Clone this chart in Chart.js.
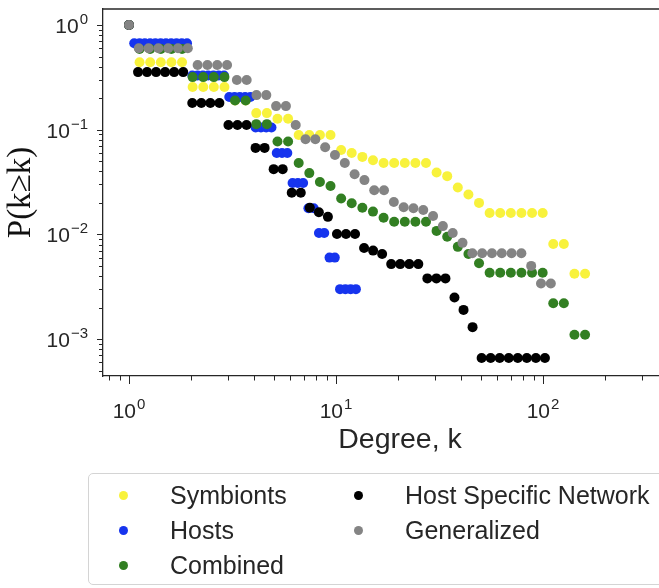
<!DOCTYPE html>
<html><head><meta charset="utf-8">
<script src="https://cdn.jsdelivr.net/npm/chart.js@4.4.0/dist/chart.umd.min.js"></script>
<style>
html,body{margin:0;padding:0;background:#fff;overflow:hidden;width:659px;height:588px}
#wrap{position:relative;width:659px;height:588px;overflow:hidden}
canvas{position:absolute;left:0;top:0}
#legend{position:absolute;left:88px;top:473px;width:624px;height:112px;border:1px solid #d4d4d4;border-radius:5px;font-family:"Liberation Sans",Arial,sans-serif;font-size:25px;color:#262626;box-sizing:border-box}
.item{position:absolute;white-space:nowrap;line-height:26px;height:26px}
.dot{position:absolute;width:9px;height:9px;border-radius:50%}
</style></head>
<body><div id="wrap"><canvas id="c" width="720" height="588"></canvas><div id="legend"></div></div>
<script>
// ---- data ----
const seriesLabels = ["Symbionts", "Hosts", "Combined", "Host Specific Network", "Generalized"];

const symbiontsDegree = [1,1.125,1.266,1.425,1.603,1.804,2.030,2.284,2.570,2.892,3.254,3.662,4.120,4.636,5.217,5.870,6.605,7.432,8.363,9.410,10.59,11.91,13.41,15.09,16.98,19.10,21.50,24.19,27.22,30.62,34.46,38.77,43.63,49.09,55.24,62.15,69.93,78.69,88.54,99.63,112.1,126.1,141.9,159.7];
const symbiontsP = [1,0.44,0.44,0.44,0.44,0.44,0.256,0.256,0.256,0.256,0.19,0.19,0.144,0.144,0.127,0.127,0.089,0.089,0.089,0.089,0.064,0.060,0.055,0.051,0.048,0.048,0.048,0.048,0.048,0.039,0.036,0.028,0.024,0.020,0.016,0.016,0.016,0.016,0.016,0.016,0.0081,0.0081,0.0042,0.0042];

const hostsDegree = [1,1.060,1.125,1.192,1.265,1.341,1.422,1.508,1.599,1.696,1.799,1.907,2.023,2.145,2.275,2.412,2.558,2.713,2.877,3.051,3.235,3.431,3.638,3.858,4.091,4.339,4.601,4.879,5.174,5.487,5.819,6.170,6.543,6.939,7.358,7.803,8.275,8.775,9.306,9.868,10.46,11.10,11.77,12.48];
const hostsP = [1,0.67,0.67,0.67,0.67,0.67,0.67,0.67,0.67,0.67,0.67,0.67,0.33,0.33,0.33,0.33,0.33,0.33,0.33,0.205,0.205,0.205,0.205,0.205,0.105,0.105,0.105,0.105,0.06,0.06,0.06,0.031,0.031,0.031,0.0178,0.0178,0.0103,0.0103,0.006,0.006,0.003,0.003,0.003,0.003];

const combinedDegree = [1,1.125,1.266,1.425,1.603,1.804,2.030,2.284,2.570,2.892,3.254,3.662,4.120,4.636,5.217,5.870,6.605,7.432,8.363,9.410,10.59,11.91,13.41,15.09,16.98,19.10,21.50,24.19,27.22,30.62,34.46,38.77,43.63,49.09,55.24,62.15,69.93,78.69,88.54,99.63,112.1,126.1,141.9,159.7];
const combinedP = [1,0.59,0.59,0.59,0.59,0.59,0.318,0.318,0.318,0.318,0.19,0.19,0.113,0.113,0.077,0.077,0.048,0.0385,0.0316,0.029,0.022,0.0198,0.018,0.0165,0.0144,0.0132,0.0132,0.0132,0.0132,0.0108,0.0095,0.0076,0.0065,0.0053,0.0043,0.0043,0.0043,0.0043,0.0043,0.0043,0.0022,0.0022,0.0011,0.0011];

const hostSpecificDegree = [1,1.106,1.223,1.352,1.495,1.653,1.828,2.022,2.236,2.472,2.734,3.023,3.343,3.697,4.088,4.520,4.999,5.527,6.112,6.759,7.474,8.265,9.139,10.11,11.18,12.36,13.67,15.11,16.71,18.48,20.43,22.60,24.99,27.63,30.56,33.79,37.36,41.32,45.69,50.52,55.87,61.78,68.32,75.55,83.54,92.38,102.2];
const hostSpecificP = [1,0.355,0.355,0.355,0.355,0.355,0.355,0.18,0.18,0.18,0.18,0.111,0.111,0.111,0.067,0.067,0.042,0.042,0.025,0.025,0.018,0.0163,0.0147,0.0101,0.0101,0.0101,0.0074,0.0070,0.0065,0.0052,0.0052,0.0052,0.0052,0.0038,0.0038,0.0038,0.0025,0.0019,0.0013,0.00066,0.00066,0.00066,0.00066,0.00066,0.00066,0.00066,0.00066];

const generalizedDegree = [1,1.115,1.244,1.387,1.547,1.725,1.924,2.146,2.393,2.669,2.977,3.320,3.703,4.130,4.606,5.137,5.729,6.390,7.127,7.948,8.865,9.887,11.03,12.30,13.72,15.30,17.06,19.03,21.23,23.67,26.40,29.45,32.84,36.63,40.85,45.56,50.82,56.68,63.21,70.50,78.63,87.70,97.81,109.1];
const generalizedP = [1,0.60,0.60,0.60,0.60,0.60,0.60,0.415,0.415,0.415,0.415,0.298,0.298,0.214,0.214,0.168,0.168,0.111,0.081,0.081,0.068,0.0574,0.048,0.0376,0.033,0.0264,0.0264,0.0204,0.0182,0.0178,0.0171,0.015,0.012,0.0103,0.0083,0.0066,0.0066,0.0066,0.0066,0.0066,0.0066,0.005,0.0034,0.0034];

const xTickValues = [1, 10, 100];
const xTickExponents = ["0", "1", "2"];
const xMinorTicks = [0.8,0.9,2,3,4,5,6,7,8,9,20,30,40,50,60,70,80,90,200,300,400,500];
const yTickValues = [1, 0.1, 0.01, 0.001];
const yTickExponents = ["0", "\u22121", "\u22122", "\u22123"];
const yMinorTicks = [0.9,0.8,0.7,0.6,0.5,0.4,0.3,0.2,0.09,0.08,0.07,0.06,0.05,0.04,0.03,0.02,0.009,0.008,0.007,0.006,0.005,0.004,0.003,0.002,0.0009,0.0008,0.0007,0.0006,0.0005];

// ---- styles ----
const seriesColors = ["#f8f23c", "#1634ee", "#327f22", "#000000", "#848484"];
const seriesOrder = [5, 4, 3, 2, 1];
const axisColor = "#262626";
const textColor = "#262626";

const degrees = [symbiontsDegree, hostsDegree, combinedDegree, hostSpecificDegree, generalizedDegree];
const probs = [symbiontsP, hostsP, combinedP, hostSpecificP, generalizedP];

const datasets = seriesLabels.map((label, i) => ({
  label,
  data: degrees[i].map((k, j) => ({x: k, y: probs[i][j]})),
  backgroundColor: seriesColors[i],
  borderWidth: 0,
  pointRadius: 5,
  pointHoverRadius: 5,
  showLine: false,
  order: seriesOrder[i]
}));

function drawPow(ctx, exp, x, y, align, baseSize, expSize, rise) {
  ctx.font = baseSize + 'px "Liberation Sans", Arial, sans-serif';
  const wb = ctx.measureText('10').width;
  ctx.font = expSize + 'px "Liberation Sans", Arial, sans-serif';
  const we = ctx.measureText(exp).width;
  const total = wb + we + 1;
  const start = align === 'center' ? x - total / 2 : x - total;
  ctx.textAlign = 'left';
  ctx.textBaseline = 'alphabetic';
  ctx.font = baseSize + 'px "Liberation Sans", Arial, sans-serif';
  ctx.fillText('10', start, y);
  ctx.font = expSize + 'px "Liberation Sans", Arial, sans-serif';
  ctx.fillText(exp, start + wb + 1, y - rise);
}

const mplAxes = {
  id: 'mplAxes',
  afterDraw(chart) {
    const {ctx, chartArea: a} = chart;
    const xs = chart.scales.x, ys = chart.scales.y;
    ctx.save();
    ctx.strokeStyle = axisColor;
    ctx.lineWidth = 1.3;
    ctx.beginPath(); ctx.moveTo(a.left, a.top); ctx.lineTo(a.right, a.top); ctx.stroke();
    ctx.lineWidth = 1;
    const seg = (x1, y1, x2, y2) => { ctx.beginPath(); ctx.moveTo(x1, y1); ctx.lineTo(x2, y2); ctx.stroke(); };
    xTickValues.forEach(v => { const p = Math.round(xs.getPixelForValue(v)) + 0.5; seg(p, a.bottom, p, a.bottom + 8); });
    xMinorTicks.forEach(v => { const p = Math.round(xs.getPixelForValue(v)) + 0.5; if (p > a.left && p < a.right) seg(p, a.bottom, p, a.bottom + 4.5); });
    yTickValues.forEach(v => { const p = Math.round(ys.getPixelForValue(v)) + 0.5; seg(a.left - 6, p, a.left, p); });
    yMinorTicks.forEach(v => { const p = Math.round(ys.getPixelForValue(v)) + 0.5; if (p > a.top && p < a.bottom) seg(a.left - 4, p, a.left, p); });
    ctx.fillStyle = textColor;
    xTickValues.forEach((v, i) => drawPow(ctx, xTickExponents[i], xs.getPixelForValue(v), a.bottom + 42, 'center', 21, 15, 9));
    yTickValues.forEach((v, i) => drawPow(ctx, yTickExponents[i], a.left - 15, ys.getPixelForValue(v) + 8, 'right', 21, 15, 9));
    ctx.restore();
  }
};

new Chart(document.getElementById('c'), {
  type: 'scatter',
  data: {datasets},
  plugins: [mplAxes],
  options: {
    responsive: false,
    animation: false,
    devicePixelRatio: 1,
    layout: {padding: {left: 0, right: 23, top: 9, bottom: 118}},
    plugins: {legend: {display: false}, tooltip: {enabled: false}},
    scales: {
      x: {
        type: 'logarithmic', bounds: 'data', min: 0.749, max: 554.6,
        grid: {display: false, drawTicks: false},
        border: {display: true, color: axisColor, width: 1.3},
        ticks: {display: false},
        title: {display: true, text: 'Degree, k', color: textColor,
                font: {family: '"Liberation Sans", Arial, sans-serif', size: 28.5}, padding: {top: 0, bottom: 13}},
        afterFit(s) { s.height = 94; }
      },
      y: {
        type: 'logarithmic', bounds: 'data', min: 0.000444, max: 1.422,
        grid: {display: false, drawTicks: false},
        border: {display: true, color: axisColor, width: 1.3},
        ticks: {display: false},
        title: {display: true, text: 'P(k\u2265k)', color: '#111',
                font: {family: '"Liberation Serif", "Times New Roman", serif', size: 33}, padding: {top: 2, bottom: 0}},
        afterFit(s) { s.width = 103; }
      }
    }
  }
});

// legend (HTML text) built from the same label/colour arrays
const legendPos = [[0, 0], [0, 1], [0, 2], [1, 0], [1, 1]];
const lg = document.getElementById('legend');
seriesLabels.forEach((label, i) => {
  const [col, row] = legendPos[i];
  const cy = 21 + row * 35;
  const dot = document.createElement('div');
  dot.className = 'dot';
  dot.style.background = seriesColors[i];
  dot.style.left = (col === 0 ? 30 : 265) + 'px';
  dot.style.top = (cy - 4.5) + 'px';
  lg.appendChild(dot);
  const t = document.createElement('div');
  t.className = 'item';
  t.textContent = label;
  t.style.left = (col === 0 ? 81 : 316) + 'px';
  t.style.top = (cy - 13) + 'px';
  lg.appendChild(t);
});
</script>
</body></html>
